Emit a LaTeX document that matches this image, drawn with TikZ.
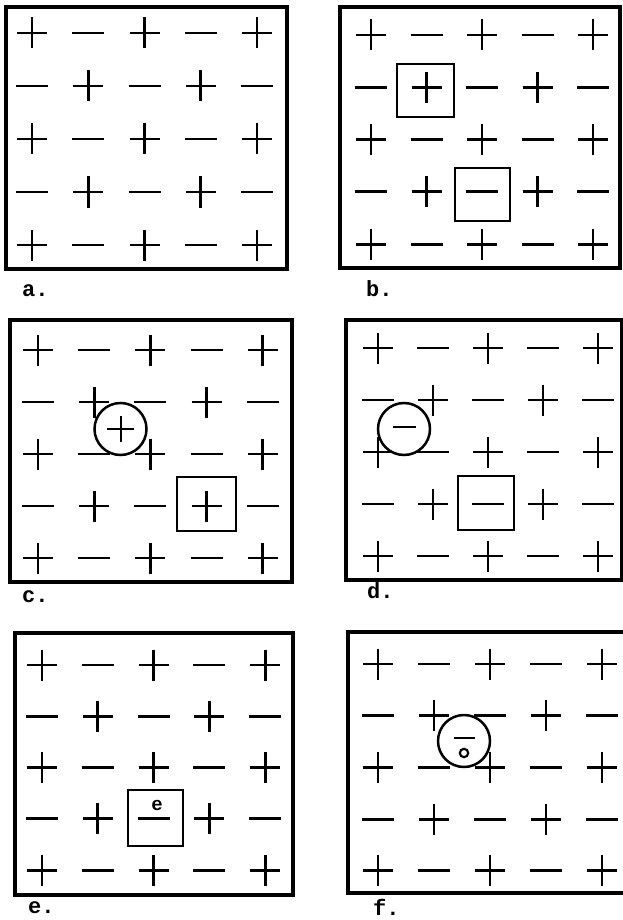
\documentclass[tikz,border=0pt]{standalone}
\usepackage{fontspec}
\newfontfamily\labfont{Liberation Mono}
\tikzset{
  sym/.style={line width=2.9pt},
  frame/.style={line width=3.2pt},
  defect/.style={line width=2.5pt},
  pl/.pic={\draw[sym] (-15,0)--(15,0) (0,-15.5)--(0,15.5);},
  mi/.pic={\draw[sym] (-16,0)--(16,0);},
  lab/.style={anchor=base west, inner sep=0pt, font=\labfont\bfseries\fontsize{22}{22}\selectfont},
}
\newcommand\lattice[4]{%
  \foreach \r in {0,...,4}{\foreach \c in {0,...,4}{%
    \pgfmathtruncatemacro\pty{mod(\r+\c,2)}%
    \ifnum\pty=0
      \pic at ({#1+\c*#2},{#3+\r*#4}) {pl};%
    \else
      \pic at ({#1+\c*#2},{#3+\r*#4}) {mi};%
    \fi}}}
\begin{document}
\begin{tikzpicture}[x=1pt,y=-1pt]
\useasboundingbox (0,0) rectangle (623,920);
\clip (0,0) rectangle (623,920);
% panel a
\draw[frame] (6,7) rectangle (287,269);
\lattice{32}{56.25}{33}{53}
\node[lab] (la) at (22,296) {a.};
% panel b
\draw[frame] (340,7) rectangle (620,268);
\lattice{371}{55.5}{35}{52.3}
\draw[defect] (397,64) rectangle (454,117);
\draw[defect] (455,168) rectangle (510,221);
\node[lab] (lb) at (366,296) {b.};
% panel c
\draw[frame] (10,320) rectangle (292,582);
\lattice{38}{56.2}{350}{52}
\draw[defect] (120.5,429) circle (26);
\draw[sym] (107,429)--(134,429) (121,416)--(121,442);
\draw[defect] (177,477) rectangle (236,531);
\node[lab] (lc) at (22,602) {c.};
% panel d
\draw[frame] (346,320) rectangle (622,580);
\lattice{378}{55}{348}{52}
\draw[defect] (404,429) circle (26);
\draw[sym] (393,427)--(416,427);
\draw[defect] (458,476) rectangle (514,530);
\node[lab] (ld) at (367,598) {d.};
% panel e
\draw[frame] (15,633) rectangle (293,895);
\lattice{42}{55.8}{665}{51.3}
\draw[defect] (128,790) rectangle (183,846);
\node[font=\labfont\bfseries\fontsize{19}{19}\selectfont, inner sep=0pt] (ee) at (157,805) {e};
\node[lab] (le) at (28,913) {e.};
% panel f
\draw[frame] (348,632) rectangle (628,893);
\lattice{378}{56}{664}{51.7}
\draw[defect] (464,741) circle (26);
\draw[line width=2.4pt] (454,738)--(475,738);
\draw[line width=2.1pt] (464,753) circle (4.2);
\node[lab] (lf) at (373,915) {f.};
\end{tikzpicture}
\end{document}
